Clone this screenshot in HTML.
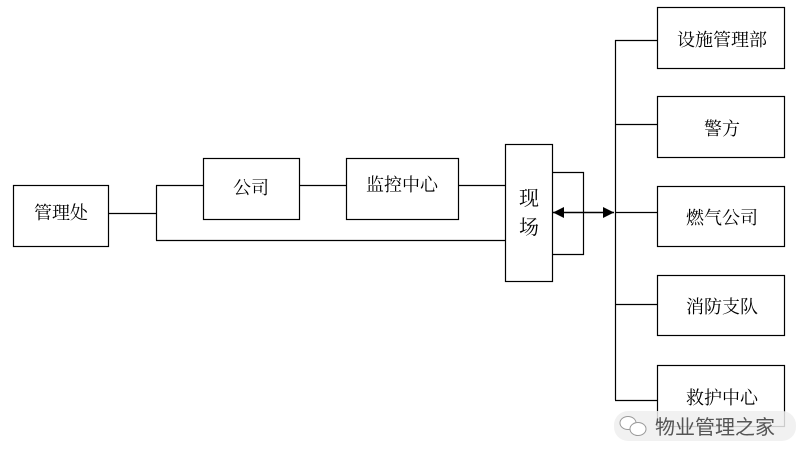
<!DOCTYPE html>
<html><head><meta charset="utf-8"><style>
body{margin:0;width:800px;height:462px;background:#fff;overflow:hidden}
</style></head><body>
<svg width="800" height="462" xmlns="http://www.w3.org/2000/svg" style="position:absolute;left:0;top:0">
<defs><marker id="a" markerWidth="12" markerHeight="12" refX="11" refY="5.5" orient="auto-start-reverse" markerUnits="userSpaceOnUse"><path d="M0,0 L11,5.5 L0,11 Z" fill="#000"/></marker></defs>
<g fill="none" stroke="#000" stroke-width="1.2">
<rect x="13.5" y="185.5" width="95" height="61"/>
<rect x="203.5" y="158.5" width="96" height="61"/>
<rect x="346.5" y="158.5" width="112" height="61"/>
<rect x="505.5" y="144.5" width="47" height="137"/>
<rect x="657.5" y="7.5" width="127" height="61"/>
<rect x="657.5" y="96.5" width="127" height="61"/>
<rect x="657.5" y="186.5" width="127" height="60"/>
<rect x="657.5" y="275.5" width="127" height="60"/>
<rect x="657.5" y="365.5" width="127" height="61"/>
<path d="M108 213.5H156.5M156.5 185.5V240.5M156 185.5H203M299 185.5H346M458 185.5H505M156 240.5H505"/>
<path d="M552 172.5H583.5V254.5H552"/>
<path d="M615.5 40V400M615 40.5H657M615 124.5H657M615 212.5H657M615 304.5H657M615 400.5H657"/>
<line x1="553" y1="212.5" x2="614" y2="212.5" stroke-width="1.6" marker-start="url(#a)" marker-end="url(#a)"/>
</g>
<g font-family="Noto Serif CJK SC, serif" font-size="18" fill="#000" text-anchor="middle">
<text x="61" y="219">管理处</text>
<text x="251" y="194">公司</text>
<text x="402" y="191">监控中心</text>
<text x="529" y="205" font-size="20">现</text>
<text x="529" y="234" font-size="20">场</text>
<text x="722" y="46">设施管理部</text>
<text x="722" y="135">警方</text>
<text x="722" y="224">燃气公司</text>
<text x="722" y="313">消防支队</text>
<text x="722" y="404">救护中心</text>
</g>
<rect x="614" y="411" width="182" height="30" rx="14" fill="#eeeeee" opacity="0.85"/>
<g fill="#fff" stroke="#999" stroke-width="1">
<ellipse cx="628" cy="423" rx="8" ry="6.5"/>
<ellipse cx="638" cy="429" rx="8" ry="6.5"/>
</g>
<text x="655" y="434" font-family="Noto Sans CJK SC, sans-serif" font-size="20" fill="#555">物业管理之家</text>
</svg>
</body></html>
